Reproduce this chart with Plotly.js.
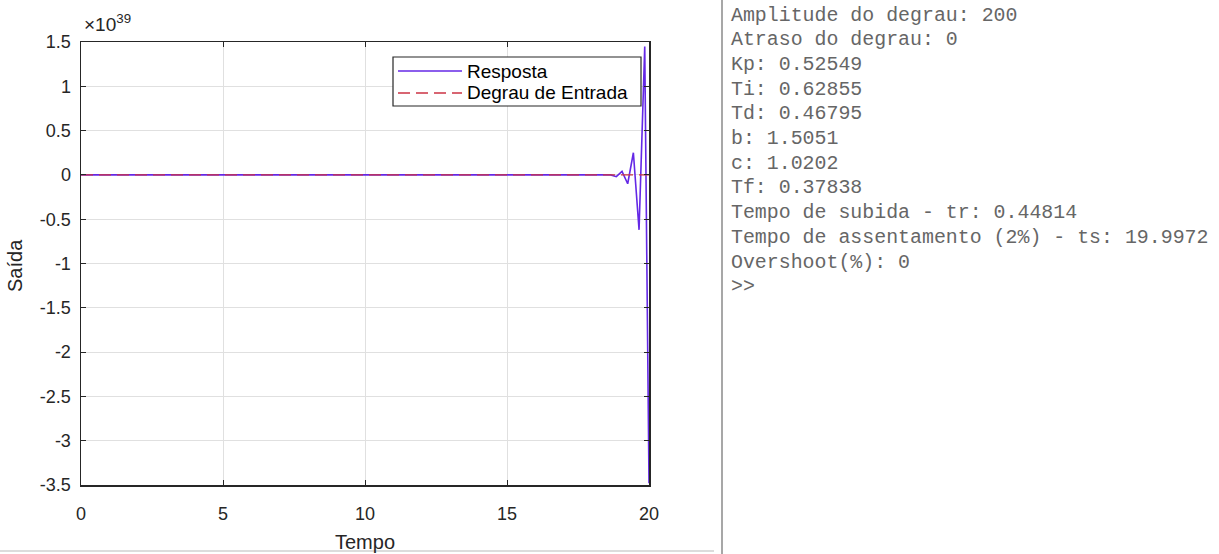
<!DOCTYPE html>
<html>
<head>
<meta charset="utf-8">
<script src="https://cdn.plot.ly/plotly-3.0.1.min.js"></script>
<style>
  html, body { margin: 0; padding: 0; background: #ffffff; }
  #chart { width: 1219px; height: 554px; }
</style>
</head>
<body>
<div id="chart"></div>
<script>
// ---- Data ----
const tempoResposta = [0, 18.65, 18.85, 19.05, 19.25, 19.45, 19.65, 19.85, 20.0];
const saidaResposta = [0, 0, -0.02e39, 0.04e39, -0.1e39, 0.25e39, -0.62e39, 1.45e39, -3.48e39];
const tempoDegrau = [0, 20];
const saidaDegrau = [200, 200];

const seriesNames = ['Resposta', 'Degrau de Entrada'];
const xTickLabels = ['0', '5', '10', '15', '20'];
const yTickLabels = ['-3.5', '-3', '-2.5', '-2', '-1.5', '-1', '-0.5', '0', '0.5', '1', '1.5'];
const yExponent = 39;

const consoleLines = [
  'Amplitude do degrau: 200',
  'Atraso do degrau: 0',
  'Kp: 0.52549',
  'Ti: 0.62855',
  'Td: 0.46795',
  'b: 1.5051',
  'c: 1.0202',
  'Tf: 0.37838',
  'Tempo de subida - tr: 0.44814',
  'Tempo de assentamento (2%) - ts: 19.9972',
  'Overshoot(%): 0',
  '>>'
];

// ---- Layout geometry (pixels) ----
const W = 1219, H = 554;
const L = 81, R = 649, T = 42, B = 485;
const pw = R - L, ph = B - T;
const px = x => (x - L) / pw;       // pixel x -> paper x
const py = y => (B - y) / ph;       // pixel y -> paper y

const scale = Math.pow(10, yExponent);
const yTickVals = yTickLabels.map(s => parseFloat(s) * scale);
const xTickVals = xTickLabels.map(s => parseFloat(s));

const axisColor = '#262626';
const gridColor = '#e0e0e0';
const font = 'Liberation Sans, Arial, sans-serif';
const colResp = '#6428e6';
const colDeg = '#cc3344';
const dashDeg = '12px,6px';

const traces = [
  {
    x: tempoResposta, y: saidaResposta, type: 'scatter', mode: 'lines',
    name: seriesNames[0], showlegend: false,
    line: { color: colResp, width: 1.6 }
  },
  {
    x: tempoDegrau, y: saidaDegrau, type: 'scatter', mode: 'lines',
    name: seriesNames[1], showlegend: false,
    line: { color: colDeg, width: 1.4, dash: dashDeg }
  }
];

const annotations = [];
// exponent label
annotations.push({
  xref: 'paper', yref: 'paper', x: px(82), y: py(23),
  xanchor: 'left', yanchor: 'middle', showarrow: false,
  text: '×10<sup>' + yExponent + '</sup>',
  font: { family: font, size: 19, color: axisColor }
});
// y axis title (rotated)
annotations.push({
  xref: 'paper', yref: 'paper', x: px(15), y: py(266),
  xanchor: 'center', yanchor: 'middle', showarrow: false,
  textangle: -90, text: 'Saída',
  font: { family: font, size: 20, color: axisColor }
});
// legend texts
const legRows = [71, 93];
seriesNames.forEach((s, i) => {
  annotations.push({
    xref: 'paper', yref: 'paper', x: px(465), y: py(legRows[i]),
    xanchor: 'left', yanchor: 'middle', showarrow: false,
    text: s, font: { family: font, size: 19, color: '#000000' }
  });
});
// console text
consoleLines.forEach((s, i) => {
  annotations.push({
    xref: 'paper', yref: 'paper', x: px(729), y: py(15 + i * 24.7),
    xanchor: 'left', yanchor: 'middle', showarrow: false,
    text: s.replace(/ /g, '&nbsp;'),
    font: { family: 'Liberation Mono, Courier New, monospace', size: 19.9, color: '#666666' }
  });
});

const shapes = [
  // legend box
  { type: 'rect', xref: 'paper', yref: 'paper', x0: px(393), x1: px(641), y0: py(57), y1: py(106),
    fillcolor: '#ffffff', line: { color: axisColor, width: 1.2 }, layer: 'above' },
  // legend samples
  { type: 'line', xref: 'paper', yref: 'paper', x0: px(398), x1: px(462), y0: py(legRows[0]), y1: py(legRows[0]),
    line: { color: colResp, width: 1.6 }, layer: 'above' },
  { type: 'line', xref: 'paper', yref: 'paper', x0: px(398), x1: px(462), y0: py(legRows[1]), y1: py(legRows[1]),
    line: { color: colDeg, width: 1.4, dash: dashDeg }, layer: 'above' },
  // console divider
  { type: 'line', xref: 'paper', yref: 'paper', x0: px(722), x1: px(722), y0: py(0), y1: py(554),
    line: { color: '#8a8a8a', width: 1.5 } },
  // figure bottom edge
  { type: 'line', xref: 'paper', yref: 'paper', x0: px(0), x1: px(714), y0: py(551), y1: py(551),
    line: { color: '#dcdcdc', width: 2 } }
];

const layout = {
  width: W, height: H,
  margin: { l: L, r: W - R, t: T, b: H - B, pad: 0 },
  paper_bgcolor: '#ffffff', plot_bgcolor: '#ffffff',
  showlegend: false,
  xaxis: {
    range: [0, 20], tickmode: 'array', tickvals: xTickVals, ticktext: xTickLabels,
    showgrid: true, gridcolor: gridColor, gridwidth: 1,
    zeroline: false, showline: true, linecolor: axisColor, linewidth: 1.5, mirror: 'ticks',
    ticks: 'inside', ticklen: 5, tickcolor: axisColor, tickwidth: 1,
    tickfont: { family: font, size: 18, color: axisColor },
    ticklabelstandoff: 12,
    title: { text: 'Tempo', font: { family: font, size: 20, color: axisColor }, standoff: 12 },
    automargin: false
  },
  yaxis: {
    range: [-3.5 * scale, 1.5 * scale], tickmode: 'array', tickvals: yTickVals, ticktext: yTickLabels,
    showgrid: true, gridcolor: gridColor, gridwidth: 1,
    zeroline: false, showline: true, linecolor: axisColor, linewidth: 1.5, mirror: 'ticks',
    ticks: 'inside', ticklen: 5, tickcolor: axisColor, tickwidth: 1,
    tickfont: { family: font, size: 18, color: axisColor },
    ticklabelstandoff: 5,
    automargin: false
  },
  annotations: annotations,
  shapes: shapes
};

Plotly.newPlot('chart', traces, layout, { displayModeBar: false, staticPlot: true });
</script>
</body>
</html>
